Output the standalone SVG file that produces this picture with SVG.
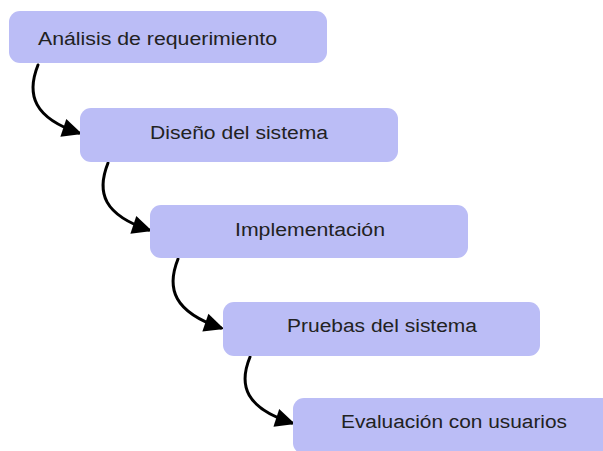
<svg xmlns="http://www.w3.org/2000/svg" width="603" height="451" viewBox="0 0 603 451">
<style>
.box{fill:#bbbdf6;}
.lbl{font-family:"Liberation Sans","Noto Sans",Arial,sans-serif;font-size:18px;fill:#222;}
.con{fill:none;stroke:#000;stroke-width:3;stroke-linecap:round;}
</style>
<defs>
<marker id="ah" markerUnits="userSpaceOnUse" markerWidth="22" markerHeight="22" viewBox="-1 -10 20 20" refX="15" refY="0" orient="auto">
<path d="M0,-8.5 L18,0 L0,8.5 z" fill="#000"/>
</marker>
</defs>
<rect width="603" height="451" fill="#fff"/>
<g id="connectors">
<path class="con" d="M38,65 C26,95 34,118 79,133" marker-end="url(#ah)"/>
<path class="con" d="M108,163 C96,193 104,215 149,230" marker-end="url(#ah)"/>
<path class="con" d="M178,259 C166,289 174,312 221,328" marker-end="url(#ah)"/>
<path class="con" d="M250,357 C238,386 246,408 292,423" marker-end="url(#ah)"/>
</g>
<g id="n1"><rect class="box" x="9" y="11" width="318" height="52" rx="11"/><text class="lbl" x="38" y="45" textLength="239" lengthAdjust="spacingAndGlyphs">Análisis de requerimiento</text></g>
<g id="n2"><rect class="box" x="80" y="108" width="318" height="54" rx="11"/><text class="lbl" x="150" y="139" textLength="178" lengthAdjust="spacingAndGlyphs">Diseño del sistema</text></g>
<g id="n3"><rect class="box" x="150" y="205" width="318" height="53" rx="11"/><text class="lbl" x="235" y="236" textLength="150" lengthAdjust="spacingAndGlyphs">Implementación</text></g>
<g id="n4"><rect class="box" x="223" y="302" width="317" height="54" rx="11"/><text class="lbl" x="287" y="332" textLength="190" lengthAdjust="spacingAndGlyphs">Pruebas del sistema</text></g>
<g id="n5"><rect class="box" x="293" y="398" width="330" height="56" rx="11"/><text class="lbl" x="341" y="428" textLength="226" lengthAdjust="spacingAndGlyphs">Evaluación con usuarios</text></g>
</svg>
